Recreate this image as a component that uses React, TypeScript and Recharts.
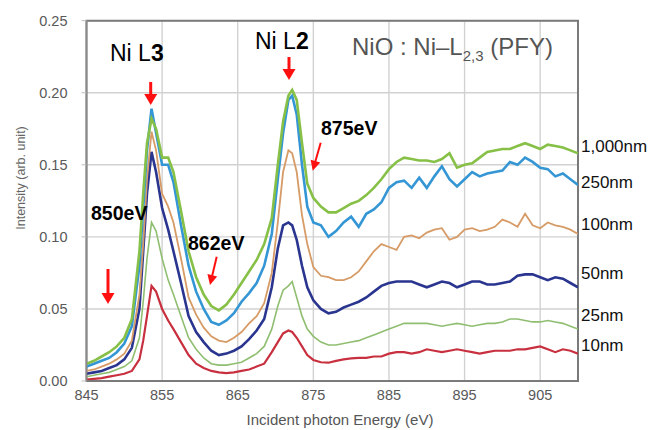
import React from "react";
import {
  LineChart,
  Line,
  XAxis,
  YAxis,
  CartesianGrid,
  ReferenceArea,
} from "recharts";

// Incident photon energy (eV)
const energy = [
  845, 846, 847, 848, 849, 850, 851, 852, 852.5, 853, 853.6, 854.2, 855, 855.8, 856.5,
  857.5, 858.5, 859.5, 860.5, 861.5, 862.5, 863.5, 864.5, 865.5, 866.5, 867.5, 868.5,
  869.5, 870.3, 871, 871.7, 872.2, 872.8, 873.5, 874.2, 875, 876, 877, 878, 879, 880,
  881, 882, 883, 884, 885, 886, 887, 888, 889, 890, 891, 892, 893, 894, 895, 896, 897,
  898, 899, 900, 901, 902, 903, 904, 905, 906, 907, 908, 909, 910,
];

const nm1000 = [
  0.012, 0.014, 0.017, 0.02, 0.024, 0.03, 0.043, 0.09, 0.13, 0.165, 0.182, 0.175, 0.155,
  0.155, 0.145, 0.118, 0.09, 0.072, 0.06, 0.052, 0.049, 0.053, 0.06, 0.068, 0.076, 0.084,
  0.095, 0.113, 0.15, 0.18, 0.198, 0.202, 0.195, 0.165, 0.137, 0.127, 0.121, 0.117, 0.117,
  0.12, 0.123, 0.125, 0.129, 0.134, 0.14, 0.147, 0.152, 0.155, 0.154, 0.153, 0.153, 0.152,
  0.154, 0.158, 0.148, 0.15, 0.151, 0.155, 0.159, 0.16, 0.161, 0.161, 0.163, 0.165, 0.163,
  0.161, 0.164, 0.163, 0.162, 0.16, 0.158,
];

const nm250 = [
  0.01, 0.012, 0.014, 0.016, 0.02, 0.026, 0.038, 0.08, 0.12, 0.16, 0.189, 0.172, 0.15,
  0.15, 0.138, 0.108, 0.08, 0.062, 0.05, 0.041, 0.039, 0.042, 0.047, 0.055, 0.061, 0.068,
  0.08, 0.102, 0.14, 0.172, 0.195, 0.198, 0.185, 0.15, 0.121, 0.11, 0.108, 0.1, 0.104,
  0.11, 0.114, 0.107, 0.116, 0.119, 0.124, 0.134, 0.138, 0.139, 0.134, 0.141, 0.134, 0.142,
  0.149, 0.14, 0.135, 0.14, 0.145, 0.142, 0.144, 0.145, 0.146, 0.152, 0.15, 0.155, 0.152,
  0.148, 0.147, 0.142, 0.144, 0.14, 0.136,
];

const nm100 = [
  0.007, 0.008, 0.01, 0.012, 0.015, 0.019, 0.028, 0.06, 0.095, 0.14, 0.173, 0.16, 0.13,
  0.121, 0.11, 0.085, 0.058, 0.046, 0.037, 0.031, 0.028, 0.027, 0.03, 0.034, 0.04, 0.045,
  0.054, 0.075, 0.11, 0.145, 0.16, 0.158, 0.145, 0.115, 0.095, 0.079, 0.073, 0.072, 0.07,
  0.07, 0.072, 0.076, 0.083, 0.09, 0.095, 0.093, 0.091, 0.1, 0.101, 0.099, 0.103, 0.105,
  0.106, 0.098, 0.1, 0.105, 0.106, 0.104, 0.105, 0.107, 0.112, 0.11, 0.107, 0.116, 0.108,
  0.106, 0.11, 0.108, 0.107, 0.105, 0.102,
];

const nm50 = [
  0.005, 0.006, 0.007, 0.009, 0.011, 0.015, 0.023, 0.05, 0.09, 0.13, 0.159, 0.145, 0.12,
  0.105, 0.09, 0.068, 0.045, 0.034, 0.027, 0.021, 0.018, 0.019, 0.021, 0.024, 0.029, 0.035,
  0.043, 0.065, 0.092, 0.108, 0.11, 0.108, 0.098, 0.08, 0.065, 0.056, 0.05, 0.047, 0.048,
  0.051, 0.053, 0.055, 0.058, 0.062, 0.066, 0.068, 0.069, 0.069, 0.069, 0.067, 0.065, 0.067,
  0.069, 0.068, 0.065, 0.067, 0.069, 0.069, 0.067, 0.067, 0.068, 0.069, 0.073, 0.074, 0.074,
  0.072, 0.07, 0.072, 0.071, 0.068, 0.065,
];

const nm25 = [
  0.003, 0.004, 0.005, 0.006, 0.008, 0.01, 0.014, 0.03, 0.055, 0.085, 0.11, 0.104, 0.085,
  0.07, 0.06, 0.045, 0.03, 0.022, 0.016, 0.012, 0.011, 0.011, 0.012, 0.013, 0.016, 0.019,
  0.024, 0.036, 0.052, 0.063, 0.066, 0.069, 0.058, 0.045, 0.036, 0.031, 0.027, 0.025, 0.025,
  0.026, 0.027, 0.028, 0.03, 0.032, 0.034, 0.036, 0.038, 0.04, 0.04, 0.04, 0.04, 0.039,
  0.038, 0.039, 0.04, 0.039, 0.038, 0.039, 0.04, 0.04, 0.041, 0.043, 0.043, 0.042, 0.041,
  0.041, 0.042, 0.041, 0.04, 0.038, 0.036,
];

const nm10 = [
  0.001, 0.0015, 0.002, 0.003, 0.004, 0.005, 0.007, 0.015, 0.028, 0.045, 0.066, 0.062, 0.05,
  0.042, 0.036, 0.027, 0.018, 0.012, 0.009, 0.007, 0.006, 0.0055, 0.006, 0.007, 0.008, 0.01,
  0.012, 0.02, 0.027, 0.033, 0.035, 0.034, 0.03, 0.024, 0.018, 0.0146, 0.013, 0.0127, 0.014,
  0.015, 0.0157, 0.016, 0.016, 0.017, 0.017, 0.019, 0.02, 0.02, 0.019, 0.02, 0.022, 0.021,
  0.02, 0.021, 0.022, 0.021, 0.02, 0.019, 0.02, 0.021, 0.021, 0.021, 0.022, 0.022, 0.023,
  0.024, 0.022, 0.02, 0.022, 0.021, 0.019,
];

const xTicks = [845, 855, 865, 875, 885, 895, 905];
const yTicks = [0, 0.05, 0.1, 0.15, 0.2, 0.25];

const seriesNames = ["10nm", "25nm", "50nm", "100nm", "250nm", "1,000nm"];

const data = energy.map((e, i) => ({
  e,
  s10: nm10[i],
  s25: nm25[i],
  s50: nm50[i],
  s100: nm100[i],
  s250: nm250[i],
  s1000: nm1000[i],
}));

const FONT = "'Liberation Sans', Arial, sans-serif";
const TICK = { fill: "#595959", fontSize: 14.5, fontFamily: FONT };

function Arrow({ x1, y1, x2, y2, w = 3, hl = 11, hw = 6.5 }: any) {
  const dx = x2 - x1;
  const dy = y2 - y1;
  const len = Math.sqrt(dx * dx + dy * dy);
  const ux = dx / len;
  const uy = dy / len;
  const bx = x2 - ux * hl;
  const by = y2 - uy * hl;
  const px = -uy;
  const py = ux;
  const pts = `${x2},${y2} ${bx + px * hw},${by + py * hw} ${bx - px * hw},${by - py * hw}`;
  return (
    <g>
      <line x1={x1} y1={y1} x2={bx + ux * 2} y2={by + uy * 2} stroke="#ff1010" strokeWidth={w} />
      <polygon points={pts} fill="#ff1010" />
    </g>
  );
}

export default function App() {
  return (
    <div style={{ position: "absolute", left: 0, top: 0, width: 651, height: 430, background: "#fff" }}>
      <LineChart
        width={651}
        height={430}
        data={data}
        margin={{ top: 20.7, right: 73, bottom: 19, left: 26 }}
      >
        <CartesianGrid stroke="#d2d2d2" strokeWidth={1.4} />
        <XAxis
          dataKey="e"
          type="number"
          domain={[845, 910]}
          ticks={xTicks}
          allowDataOverflow
          height={30}
          tickSize={0}
          tickMargin={9}
          tick={TICK}
          axisLine={{ stroke: "#7a7a7a", strokeWidth: 2 }}
        />
        <YAxis
          type="number"
          domain={[0, 0.25]}
          ticks={yTicks}
          width={60.5}
          tickSize={5}
          tickMargin={14}
          tick={TICK}
          tickLine={{ stroke: "#bdbdbd" }}
          tickFormatter={(v: number) => v.toFixed(2)}
          axisLine={{ stroke: "#8a8a8a", strokeWidth: 1.5 }}
        />
        <ReferenceArea
          x1={845}
          x2={910}
          y1={0}
          y2={0.25}
          fill="none"
          fillOpacity={0}
          stroke="#7a7a7a"
          strokeWidth={2}
          ifOverflow="visible"
        />
        <Line dataKey="s10" name={seriesNames[0]} stroke="#c8303f" strokeWidth={2.2} dot={false} isAnimationActive={false} />
        <Line dataKey="s25" name={seriesNames[1]} stroke="#8fbe70" strokeWidth={1.6} dot={false} isAnimationActive={false} />
        <Line dataKey="s50" name={seriesNames[2]} stroke="#2a3590" strokeWidth={2.6} dot={false} isAnimationActive={false} />
        <Line dataKey="s100" name={seriesNames[3]} stroke="#d69b66" strokeWidth={1.8} dot={false} isAnimationActive={false} />
        <Line dataKey="s250" name={seriesNames[4]} stroke="#3496d4" strokeWidth={2.6} dot={false} isAnimationActive={false} />
        <Line dataKey="s1000" name={seriesNames[5]} stroke="#86c046" strokeWidth={2.6} dot={false} isAnimationActive={false} />
      </LineChart>
      <svg
        width={651}
        height={430}
        style={{ position: "absolute", left: 0, top: 0, pointerEvents: "none" }}
      >
        <text
          x={21}
          y={178}
          transform="rotate(-90 21 178)"
          textAnchor="middle"
          dominantBaseline="central"
          fontFamily={FONT}
          fontSize={12.5}
          fill="#666"
        >
          Intensity (arb. unit)
        </text>
        <text x={340} y={425} textAnchor="middle" fontFamily={FONT} fontSize={15} fill="#555">
          Incident photon Energy (eV)
        </text>
        <text x={352} y={55} fontFamily={FONT} fontSize={24} fill="#555">
          NiO : Ni–L
          <tspan fontSize={15} dy={6}>2,3</tspan>
          <tspan dy={-6}> (PFY)</tspan>
        </text>
        <text x={110} y={61} fontFamily={FONT} fontSize={23} fill="#000">
          Ni L<tspan fontWeight="bold">3</tspan>
        </text>
        <text x={255} y={49} fontFamily={FONT} fontSize={23} fill="#000">
          Ni L<tspan fontWeight="bold">2</tspan>
        </text>
        <text x={91} y={220} fontFamily={FONT} fontSize={19.5} fontWeight="bold" fill="#000">
          850eV
        </text>
        <text x={188} y={250} fontFamily={FONT} fontSize={19.5} fontWeight="bold" fill="#000">
          862eV
        </text>
        <text x={321} y={135} fontFamily={FONT} fontSize={19.5} fontWeight="bold" fill="#000">
          875eV
        </text>
        <Arrow x1={150.7} y1={82} x2={150.7} y2={105} />
        <Arrow x1={289} y1={57} x2={289} y2={80} />
        <Arrow x1={108} y1={269} x2={108} y2={304} />
        <Arrow x1={216.7} y1={256.7} x2={210} y2={285} w={2} hl={10} hw={5} />
        <Arrow x1={320.7} y1={142.7} x2={312.7} y2={170.7} w={2} hl={10} hw={5} />
        {[
          ["1,000nm", 151.7],
          ["250nm", 188.3],
          ["100nm", 230],
          ["50nm", 279],
          ["25nm", 320.7],
          ["10nm", 350.7],
        ].map(([t, y]) => (
          <text key={t as string} x={581} y={y as number} fontFamily={FONT} fontSize={17} fill="#111">
            {t}
          </text>
        ))}
      </svg>
    </div>
  );
}
